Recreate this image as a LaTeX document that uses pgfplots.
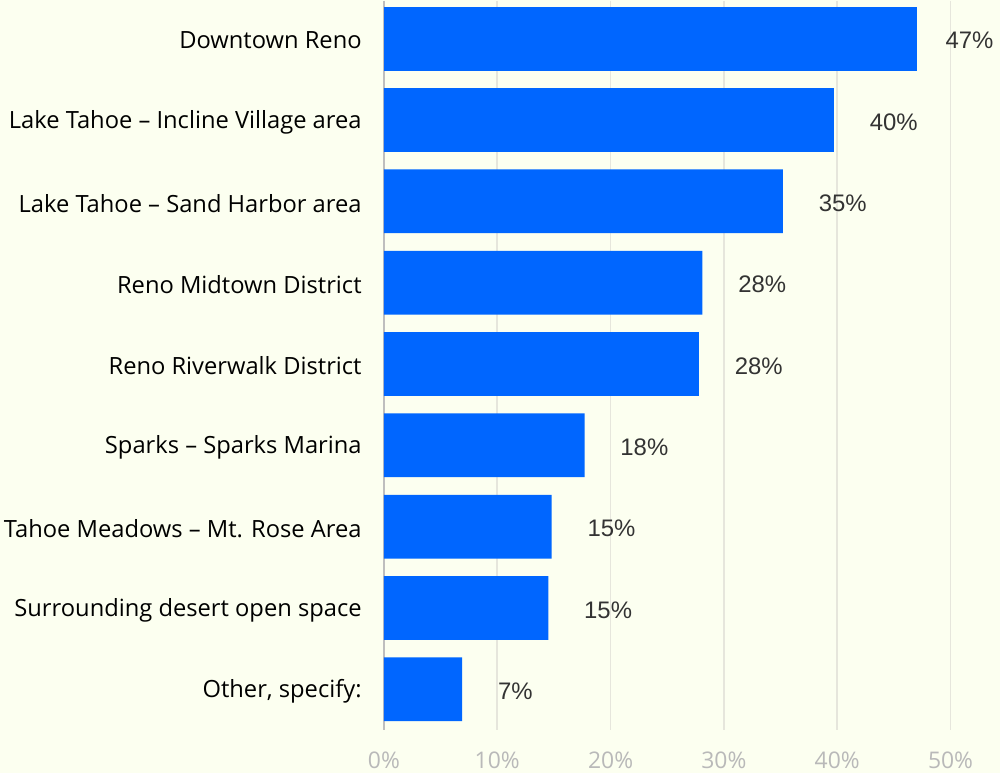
\documentclass[border=0pt]{standalone}
\usepackage{pgfplots}
\pgfplotsset{compat=1.18}
\usepackage{fontspec}
\setmainfont{Open Sans}
\newfontfamily\valfont{Liberation Sans}
\usetikzlibrary{backgrounds}
\definecolor{bgcol}{RGB}{252,255,240}
\definecolor{barcol}{RGB}{0,102,255}
\definecolor{gridcol}{RGB}{230,230,220}
\definecolor{tickcol}{RGB}{185,185,185}
\definecolor{axcol}{RGB}{190,190,190}
\definecolor{valcol}{RGB}{51,51,51}
\begin{document}
\begin{tikzpicture}[background rectangle/.style={fill=bgcol},show background rectangle,inner frame sep=0pt]
\begin{axis}[
  xbar,
  scale only axis,
  width=308.85pt, height=366pt,
  xmin=0, xmax=54.3,
  ymin=-0.465, ymax=8.5,
  y dir=reverse,
  bar width=32pt,
  bar shift=0pt,
  ytick={0,1,2,3,4,5,6,7,8},
  yticklabels={Downtown Reno,Lake Tahoe -- Incline Village area,Lake Tahoe -- Sand Harbor area,Reno Midtown District,Reno Riverwalk District,Sparks -- Sparks Marina,Tahoe Meadows -- Mt. Rose Area,Surrounding desert open space,{Other, specify:}},
  yticklabel style={font=\fontsize{11.9}{14}\selectfont, text=black, inner sep=2pt, xshift=-9pt, yshift=-1pt},
  xtick={0,10,20,30,40,50},
  xticklabel={\pgfmathprintnumber{\tick}\%},
  xticklabel style={font=\fontsize{11.5}{13}\selectfont, text=tickcol, yshift=-8.7pt, inner sep=2pt},
  /pgf/number format/assume math mode=true,
  major tick length=0pt,
  xmajorgrids,
  grid style={gridcol, line width=0.8pt},
  axis lines*=left,
  axis line style={-},
  x axis line style={draw=none},
  y axis line style={draw=axcol, line width=0.8pt},
  clip=false,
  nodes near coords,
  point meta=explicit symbolic,
  nodes near coords style={anchor=west, yshift=-1pt, font=\valfont\fontsize{12}{14}\selectfont, text=valcol},
]
\addplot[fill=barcol, draw=none, nodes near coords style={xshift=11pt}] coordinates {
  (47.0,0) [47\%]
};
\addplot[fill=barcol, draw=none, nodes near coords style={xshift=14.5pt}] coordinates {
  (39.7,1) [40\%]
  (35.2,2) [35\%]
  (28.1,3) [28\%]
  (27.8,4) [28\%]
  (17.7,5) [18\%]
  (14.8,6) [15\%]
  (14.5,7) [15\%]
  (6.9,8) [7\%]
};
\end{axis}
\end{tikzpicture}
\end{document}
